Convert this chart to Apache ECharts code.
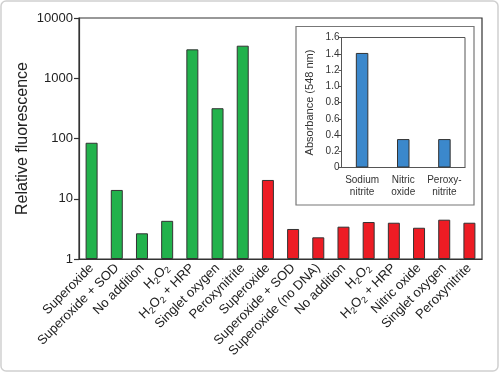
<!DOCTYPE html>
<html>
<head>
<meta charset="utf-8">
<script src="https://cdn.jsdelivr.net/npm/echarts@6/dist/echarts.min.js"></script>
<style>html,body{margin:0;padding:0;background:#fff}#c{width:500px;height:373px}</style>
</head>
<body>
<div id="c"></div>
<script>
// Main chart data
var categories = ['Superoxide','Superoxide + SOD','No addition','H2O2','H2O2 + HRP','Singlet oxygen','Peroxynitrite',
  'Superoxide','Superoxide + SOD','Superoxide (no DNA)','No addition','H2O2','H2O2 + HRP','Nitric oxide','Singlet oxygen','Peroxynitrite'];
var greenValues = [85, 14, 2.67, 4.3, 3020, 318, 3470];
var redValues = [20.5, 3.15, 2.29, 3.44, 4.11, 4.0, 3.3, 4.49, 4.0];
var yTickLabels = ['1','10','100','1000','10000'];
// Inset data
var insetCategories = ['Sodium\nnitrite','Nitric\noxide','Peroxy-\nnitrite'];
var insetValues = [1.41, 0.35, 0.35];

var GREEN = '#22b24c', RED = '#ed1c24', BLUE = '#3b88cc';
var FONT = 'Liberation Sans, Arial, Helvetica, sans-serif';

var mainData = [];
greenValues.forEach(function(v){ mainData.push({value: v, itemStyle: {color: GREEN}}); });
redValues.forEach(function(v){ mainData.push({value: v, itemStyle: {color: RED}}); });

function fmtCat(s){
  if (s.indexOf('H2O2') === 0) {
    var rest = s.slice(4);
    return '{n|H}{s|2}{n|O}{s|2}' + (rest ? '{n|' + rest + '}' : '');
  }
  return s;
}

var chart = echarts.init(document.getElementById('c'), null, {renderer: 'canvas'});
chart.setOption({
  animation: false,
  textStyle: {fontFamily: FONT},
  graphic: [
    {type: 'rect', shape: {x: 1, y: 1, width: 497, height: 370, r: 5}, style: {fill: 'none', stroke: '#d0d0d0', lineWidth: 1.5}, z: -10},
    {type: 'rect', shape: {x: 296, y: 26.5, width: 178, height: 178.5}, style: {fill: 'none', stroke: '#777', lineWidth: 1.2}, z: -5}
  ],
  grid: [
    {left: 79, right: 18, top: 18, bottom: 114, show: true, borderColor: '#333', borderWidth: 1.2, backgroundColor: 'transparent'},
    {left: 341.5, top: 37.5, width: 123.5, height: 130, show: true, borderColor: '#555', borderWidth: 1, backgroundColor: 'transparent'}
  ],
  xAxis: [
    {type: 'category', gridIndex: 0, data: categories,
     axisLine: {lineStyle: {color: '#333', width: 1.2}},
     axisTick: {length: 6, lineStyle: {color: '#333', width: 1.2}},
     axisLabel: {interval: 0, rotate: 45, fontSize: 13, color: '#222', margin: 7, fontFamily: FONT,
       formatter: fmtCat,
       rich: {n: {fontSize: 13, lineHeight: 16, color: '#222', fontFamily: FONT},
              s: {fontSize: 9, lineHeight: 7, verticalAlign: 'bottom', color: '#222', fontFamily: FONT}}}
    },
    {type: 'category', gridIndex: 1, data: insetCategories,
     axisLine: {lineStyle: {color: '#555', width: 1}},
     axisTick: {length: 4, lineStyle: {color: '#555'}},
     axisLabel: {interval: 0, fontSize: 10, lineHeight: 12, color: '#333', margin: 7, fontFamily: FONT}
    }
  ],
  yAxis: [
    {type: 'log', gridIndex: 0, logBase: 10, min: 1, max: 10000,
     name: 'Relative fluorescence', nameLocation: 'middle', nameGap: 48, nameMoveOverlap: false,
     nameTextStyle: {fontSize: 16, color: '#222', fontFamily: FONT},
     axisLine: {show: true, lineStyle: {color: '#333', width: 1.2}},
     axisTick: {show: true, length: 5, lineStyle: {color: '#333', width: 1.2}},
     splitLine: {show: false},
     axisLabel: {fontSize: 13, color: '#222', margin: 6, fontFamily: FONT,
       formatter: function(v){ var i = Math.round(Math.log10(v)); return yTickLabels[i] || ''; }}
    },
    {type: 'value', gridIndex: 1, min: 0, max: 1.6, interval: 0.2,
     name: 'Absorbance (548 nm)', nameLocation: 'middle', nameGap: 26, nameMoveOverlap: false,
     nameTextStyle: {fontSize: 11, color: '#333', fontFamily: FONT},
     axisLine: {show: true, lineStyle: {color: '#555', width: 1}},
     axisTick: {show: true, length: 3, lineStyle: {color: '#555'}},
     splitLine: {show: false},
     axisLabel: {fontSize: 10, color: '#333', margin: 2, fontFamily: FONT,
       formatter: function(v){ return v === 0 ? '0' : v.toFixed(1); }}
    }
  ],
  series: [
    {type: 'bar', xAxisIndex: 0, yAxisIndex: 0, data: mainData, barWidth: 12,
     itemStyle: {borderColor: '#333', borderWidth: 1}},
    {type: 'bar', xAxisIndex: 1, yAxisIndex: 1, data: insetValues, barWidth: 12.5,
     itemStyle: {color: BLUE, borderColor: '#333', borderWidth: 1}}
  ]
});
</script>
</body>
</html>
